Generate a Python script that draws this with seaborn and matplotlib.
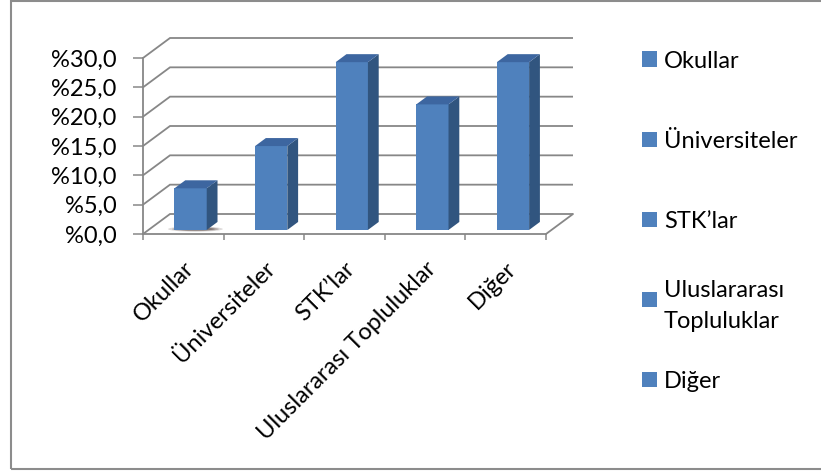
import matplotlib
matplotlib.use("Agg")
import matplotlib.pyplot as plt
import seaborn as sns
import numpy as np
import pandas as pd
from matplotlib.patches import Polygon, Rectangle, Ellipse

# ---------------- data ----------------
categories = ["Okullar", "Üniversiteler", "STK’lar", "Uluslararası Topluluklar", "Diğer"]
legend_labels = ["Okullar", "Üniversiteler", "STK’lar", "Uluslararası\nTopluluklar", "Diğer"]
values = [7.1, 14.3, 28.6, 21.4, 28.6]
y_ticks = [0, 5, 10, 15, 20, 25, 30]
y_tick_labels = ["%0,0", "%5,0", "%10,0", "%15,0", "%20,0", "%25,0", "%30,0"]

# ---------------- style ----------------
FRONT = "#4F81BD"
SIDE = "#31557F"
TOP = "#3D66A0"
GRID = "#878787"

sns.set_theme(style="white")
plt.rcParams["font.family"] = ["Lato", "DejaVu Sans"]
FS = 17

W, H = 821, 472
fig = plt.figure(figsize=(W / 100, H / 100), dpi=100)

# front plane pixel geometry
FX0, FX1 = 143, 546
FY0, FY30 = 234, 58
sx = (FX1 - FX0) / 5.0
sy = (FY0 - FY30) / 30.0
L, R, T, B = 120, 600, 20, 250
ax = fig.add_axes([L / W, 1 - B / H, (R - L) / W, (B - T) / H])

df = pd.DataFrame({"cat": categories, "val": values})
sns.barplot(data=df, x="cat", y="val", color=FRONT, width=0.4, saturation=1,
            ax=ax, zorder=3, linewidth=0)

ax.set_xlim(-0.5 - (FX0 - L) / sx, -0.5 + (R - FX0) / sx)
ax.set_ylim(-(B - FY0) / sy, (FY0 - T) / sy)

# depth vector (data units)
DX = 27 / sx
DY = 20 / sy
f0 = 0.27   # bar front position within depth
bd = 0.40   # bar depth fraction

bars = list(ax.patches)
for i, p in enumerate(bars):
    x0 = p.get_x() + f0 * DX
    w = p.get_width()
    h = p.get_height()
    b = f0 * DY * 0.75
    p.set_x(x0)
    p.set_y(b)
    x1 = x0 + w
    side = Polygon([(x1, b), (x1 + bd * DX, b + bd * DY),
                    (x1 + bd * DX, b + h + bd * DY), (x1, b + h)],
                   closed=True, fc=SIDE, ec="none", zorder=3)
    top = Polygon([(x0, b + h), (x1, b + h), (x1 + bd * DX, b + h + bd * DY),
                   (x0 + bd * DX, b + h + bd * DY)],
                  closed=True, fc=TOP, ec="none", zorder=3)
    ax.add_patch(side)
    ax.add_patch(top)
    if i == 0:
        for k, a in enumerate([0.15, 0.25, 0.35]):
            sh = Ellipse((x0 + w * 0.65, b + 0.15), w * (1.7 - 0.25 * k),
                         0.9 - 0.2 * k, fc="#2a1510", alpha=a, ec="none",
                         zorder=2)
            ax.add_patch(sh)

# back wall grid + left wall diagonals
xb_right = 4.5 + DX
for t in y_ticks:
    ax.plot([-0.5, -0.5 + DX, xb_right], [t, t + DY, t + DY], color=GRID,
            lw=1.3, zorder=1, solid_joinstyle="miter", solid_capstyle="butt")
# floor right edge
ax.plot([4.5, 4.5 + DX], [0, DY], color=GRID, lw=1.3, zorder=1)

# spines
for s in ["top", "right"]:
    ax.spines[s].set_visible(False)
ax.spines["left"].set_position(("data", -0.5))
ax.spines["left"].set_bounds(0, 30)
ax.spines["bottom"].set_position(("data", 0))
ax.spines["bottom"].set_bounds(-0.5, 4.5)
for s in ["left", "bottom"]:
    ax.spines[s].set_color(GRID)
    ax.spines[s].set_linewidth(1.3)
    ax.spines[s].set_zorder(4)

ax.set_yticks(y_ticks, y_tick_labels)
ax.tick_params(axis="y", left=True, length=7, width=1.1, color=GRID, pad=12,
               labelsize=FS, labelcolor="black")
ax.set_xticks(range(len(categories)), categories)
ax.set_xticks(np.arange(-0.5, len(categories), 1.0), minor=True)
ax.tick_params(axis="x", which="major", bottom=False, length=0, pad=17,
               labelsize=FS, labelcolor="black")
ax.tick_params(axis="x", which="minor", bottom=True, length=4, width=1.1,
               color=GRID, direction="out")
for lab in ax.get_xticklabels():
    lab.set_rotation(45)
    lab.set_ha("right")
    lab.set_rotation_mode("anchor")
ax.set_xlabel("")
ax.set_ylabel("")
ax.grid(False)
ax.patch.set_alpha(0)

# legend (Excel-like, fixed slots)
for i, lab in enumerate(legend_labels):
    yc = 59 + 80 * i
    fig.add_artist(Rectangle((642 / W, 1 - (yc + 7.5) / H), 15 / W, 15 / H,
                             transform=fig.transFigure, fc=FRONT, ec="none"))
    fig.text(664 / W, 1 - yc / H, lab, fontsize=FS, va="center_baseline",
             ha="left", linespacing=1.6, color="black")

# outer frame
fig.add_artist(Rectangle((11 / W, 1 - 469 / H), (840 - 11) / W, (469 - 1) / H,
                         transform=fig.transFigure, fill=False, ec="#8c8c8c",
                         lw=1.5, clip_on=False))

fig.savefig("out.png", dpi=100)
